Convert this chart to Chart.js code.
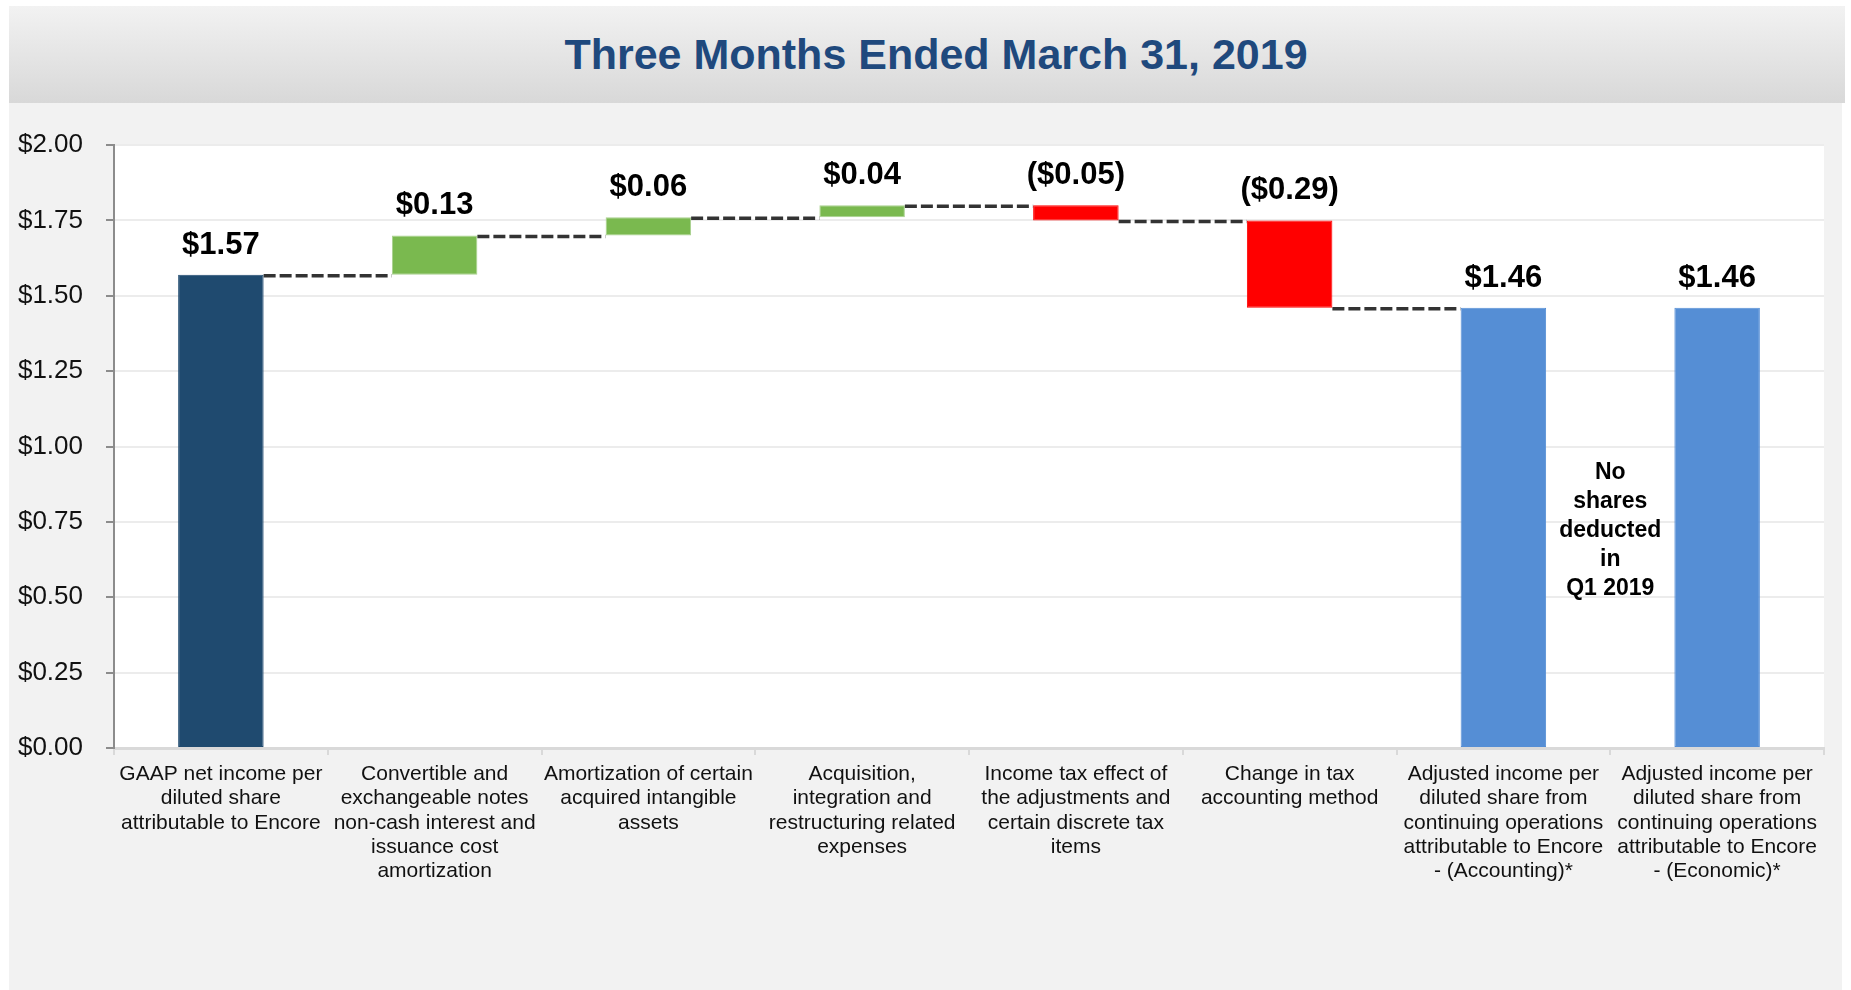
<!DOCTYPE html>
<html>
<head>
<meta charset="utf-8">
<script src="https://cdn.jsdelivr.net/npm/chart.js@4/dist/chart.umd.min.js"></script>
<style>
  html, body { margin: 0; padding: 0; background: #ffffff; width: 1851px; height: 990px; overflow: hidden; }
  #header {
    position: absolute; left: 9px; top: 6px; width: 1836px; height: 97px;
    background: linear-gradient(to bottom, #f2f2f2 0%, #d8d8d8 100%);
  }
  #title {
    position: absolute; left: 9px; top: 6px; width: 1854px; height: 97px;
    line-height: 97px; text-align: center;
    font-family: "Liberation Sans", Arial, sans-serif; font-weight: bold; font-size: 43px;
    color: #1F497D;
  }
  #wrap { position: absolute; left: 9px; top: 103px; width: 1833px; height: 887px; background: #f2f2f2; }
  canvas { display: block; }
</style>
</head>
<body>
<div id="header"></div>
<div id="title">Three Months Ended March 31, 2019</div>
<div id="wrap"><canvas id="c" width="1833" height="887"></canvas></div>
<script>
// ---- data ----
const categories = [
  ["GAAP net income per", "diluted share", "attributable to Encore"],
  ["Convertible and", "exchangeable notes", "non-cash interest and", "issuance cost", "amortization"],
  ["Amortization of certain", "acquired intangible", "assets"],
  ["Acquisition,", "integration and", "restructuring related", "expenses"],
  ["Income tax effect of", "the adjustments and", "certain discrete tax", "items"],
  ["Change in tax", "accounting method"],
  ["Adjusted income per", "diluted share from", "continuing operations", "attributable to Encore", "- (Accounting)*"],
  ["Adjusted income per", "diluted share from", "continuing operations", "attributable to Encore", "- (Economic)*"]
];
const amounts = [1.57, 0.13, 0.06, 0.04, -0.05, -0.29, 1.46, 1.46];
const barKinds = ["total", "delta", "delta", "delta", "delta", "delta", "adjusted", "adjusted"];
const valueLabels = ["$1.57", "$0.13", "$0.06", "$0.04", "($0.05)", "($0.29)", "$1.46", "$1.46"];
const annotationLines = ["No", "shares", "deducted", "in", "Q1 2019"];

// ---- build floating bars ----
const floating = [];
let running = 0;
amounts.forEach((a, i) => {
  if (barKinds[i] === "delta") {
    const start = running;
    running = Math.round((running + a) * 100) / 100;
    floating.push([start, running]);
  } else {
    running = a;
    floating.push([0, a]);
  }
});
const fillFor = (i) => {
  if (barKinds[i] === "total") return "#1F4A6F";
  if (barKinds[i] === "adjusted") return "#558ED5";
  return amounts[i] >= 0 ? "#7AB94F" : "#FF0000";
};
const borderFor = (i) => (barKinds[i] === "delta" && amounts[i] >= 0) ? "#A9D18E" : fillFor(i);

const FONT = '"Liberation Sans", Arial, sans-serif';

const plotBg = {
  id: "plotBg",
  beforeDraw(chart) {
    const { ctx, chartArea: a } = chart;
    ctx.save();
    ctx.fillStyle = "#ffffff";
    ctx.fillRect(a.left, a.top, a.right - a.left, a.bottom - a.top);
    ctx.restore();
  }
};

const connectors = {
  id: "connectors",
  afterDatasetsDraw(chart) {
    const { ctx } = chart;
    const meta = chart.getDatasetMeta(0);
    const y = chart.scales.y;
    ctx.save();
    ctx.strokeStyle = "#333333";
    ctx.lineWidth = 3.5;
    ctx.setLineDash([12, 4]);
    for (let i = 0; i < meta.data.length - 1; i++) {
      if (barKinds[i] !== "delta" && barKinds[i + 1] !== "delta") continue;
      const b0 = meta.data[i], b1 = meta.data[i + 1];
      const py = y.getPixelForValue(floating[i][1]) + 1;
      ctx.beginPath();
      ctx.moveTo(b0.x + b0.width / 2, py);
      ctx.lineTo(b1.x - b1.width / 2, py);
      ctx.stroke();
    }
    ctx.restore();
  }
};

const valueText = {
  id: "valueText",
  afterDatasetsDraw(chart) {
    const { ctx } = chart;
    const meta = chart.getDatasetMeta(0);
    const y = chart.scales.y;
    ctx.save();
    ctx.fillStyle = "#000000";
    ctx.font = "bold 31px " + FONT;
    ctx.textAlign = "center";
    ctx.textBaseline = "middle";
    meta.data.forEach((bar, i) => {
      const top = y.getPixelForValue(Math.max(floating[i][0], floating[i][1]));
      ctx.fillText(valueLabels[i], bar.x, top - 29.5);
    });
    // annotation between the two adjusted bars
    const b6 = meta.data[6], b7 = meta.data[7];
    const cx = (b6.x + b7.x) / 2;
    const cy = y.getPixelForValue(0.72);
    const lh = 28.9;
    ctx.font = "bold 23px " + FONT;
    annotationLines.forEach((t, k) => {
      ctx.fillText(t, cx, cy + (k - (annotationLines.length - 1) / 2) * lh);
    });
    ctx.restore();
  }
};

new Chart(document.getElementById("c"), {
  type: "bar",
  data: {
    labels: categories,
    datasets: [{
      data: floating,
      backgroundColor: floating.map((_, i) => fillFor(i)),
      borderColor: floating.map((_, i) => borderFor(i)),
      borderWidth: 1,
      borderSkipped: false,
      barPercentage: 0.4,
      categoryPercentage: 1.0
    }]
  },
  options: {
    responsive: false,
    animation: false,
    devicePixelRatio: 1,
    layout: { padding: { top: 42, right: 18, left: 0, bottom: 0 } },
    plugins: { legend: { display: false }, title: { display: false }, tooltip: { enabled: false } },
    scales: {
      x: {
        afterFit(s) { s.height = 242; },
        border: { display: true, color: "#D9D9D9", width: 3 },
        grid: { display: true, drawOnChartArea: false, offset: true, color: "#D9D9D9", tickColor: "#D9D9D9", tickLength: 7, lineWidth: 2 },
        ticks: {
          autoSkip: false, maxRotation: 0, minRotation: 0, padding: 7,
          color: "#111111",
          font: { family: FONT, size: 21, lineHeight: 1.16 }
        }
      },
      y: {
        min: 0, max: 2,
        afterFit(s) { s.width = 105; },
        border: { display: true, color: "#8C8C8C", width: 2 },
        grid: { color: "#ECECEC", lineWidth: 2, tickColor: "#8C8C8C", tickLength: 8 },
        ticks: {
          stepSize: 0.25, padding: 23, color: "#111111",
          font: { family: FONT, size: 26 },
          callback: (v) => "$" + Number(v).toFixed(2)
        }
      }
    }
  },
  plugins: [plotBg, connectors, valueText]
});
</script>
</body>
</html>
